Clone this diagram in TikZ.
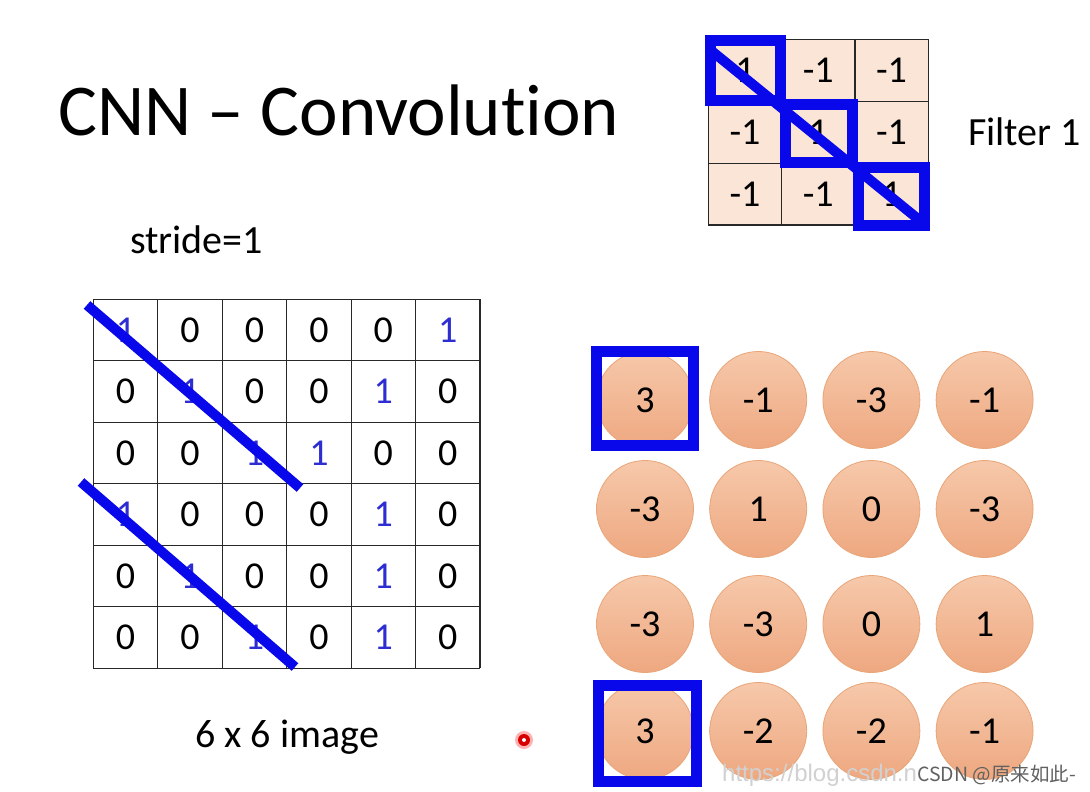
\documentclass[tikz,border=0pt]{standalone}
\usepackage{fontspec}
\setmainfont{Carlito}[Ligatures={NoCommon}]
\newfontfamily\cjk{Noto Sans CJK SC}
\newfontfamily\urlfont{Liberation Sans}
\definecolor{mblue}{RGB}{8,8,235}
\definecolor{numblue}{RGB}{45,45,210}
\definecolor{peach}{RGB}{251,229,214}
\definecolor{ctop}{RGB}{246,200,170}
\definecolor{cbot}{RGB}{238,168,128}
\definecolor{cedge}{RGB}{232,165,120}
\definecolor{gridgray}{RGB}{40,40,40}
\begin{document}
\begin{tikzpicture}[x=1pt,y=-1pt,
  bigtext/.style={font=\fontsize{40}{44}\selectfont, inner sep=0, anchor=base west},
  num/.style={font=\fontsize{38}{40}\selectfont, inner sep=0},
  zero/.style={num, text=black},
  one/.style={num, text=numblue},
  fnum/.style={num, text=black},
  gline/.style={draw=gridgray, line width=1.2},
  fcell/.style={fill=peach, draw=gridgray, line width=1.2},
  bluebar/.style={draw=mblue, line width=10, line cap=butt},
  bluebox/.style={draw=mblue, line width=11},
  outc/.style={circle, minimum size=97, inner sep=0, draw=cedge, line width=0.8,
    top color=ctop, bottom color=cbot, font=\fontsize{38}{40}\selectfont}]
\useasboundingbox (0,0) rectangle (1090,792);
\fill[white] (0,0) rectangle (1090,792);

% title
\node[font=\fontsize{73}{80}\selectfont, inner sep=0, anchor=base west] (title) at (58,135) {CNN -- Convolut\kern0pt ion};
\node[bigtext] (stride) at (130,253) {stride=1};
\node[bigtext] (imglabel) at (195,747) {6 x 6 image};
\node[bigtext] (flabel) at (968,145) {Filter 1};

% 6x6 image grid
\foreach \i in {0,...,6} {
  \draw[gline] (93.3+64.45*\i,299.3) -- (93.3+64.45*\i,668.3);
  \draw[gline] (93.3,299.3+61.5*\i) -- (480,299.3+61.5*\i);
}
\foreach \row/\vals in {1/{1,0,0,0,0,1},2/{0,1,0,0,1,0},3/{0,0,1,1,0,0},4/{1,0,0,0,1,0},5/{0,1,0,0,1,0},6/{0,0,1,0,1,0}} {
  \foreach \v [count=\c] in \vals {
    \ifnum\v=1
      \node[one] (g-\row-\c) at (93.3+64.45*\c-32.2, 299.3+61.5*\row-30.75) {1};
    \else
      \node[zero] (g-\row-\c) at (93.3+64.45*\c-32.2, 299.3+61.5*\row-30.75) {0};
    \fi
  }
}
\coordinate (d1a) at (87,305);
\coordinate (d1b) at (300,488);
\coordinate (d2a) at (81,482);
\coordinate (d2b) at (295,667);
\draw[bluebar] (d1a) -- (d1b);
\draw[bluebar] (d2a) -- (d2b);

% filter
\foreach \r in {1,2,3} {
  \foreach \c in {1,2,3} {
    \draw[fcell] (708.3+73.3*\c-73.3,39.3+61.9*\r-61.9) rectangle (708.3+73.3*\c,39.3+61.9*\r);
    \ifnum\r=\c
      \node[fnum] (f-\r-\c) at (708.3+73.3*\c-36.65,39.3+61.9*\r-30.95) {1};
    \else
      \node[fnum] (f-\r-\c) at (708.3+73.3*\c-36.65,39.3+61.9*\r-30.95) {-1};
    \fi
  }
}
\draw[bluebox] (710,41) rectangle (780,100);
\draw[bluebox] (785,104) rectangle (852,162);
\draw[bluebox] (858,167) rectangle (924,225);
\coordinate (fa) at (708,48);
\coordinate (fb) at (923,223);
\draw[bluebar] (fa) -- (fb);

% output feature map
\foreach \r/\y/\vals in {1/400/{3,-1,-3,-1},2/509/{-3,1,0,-3},3/624/{-3,-3,0,1},4/731/{3,-2,-2,-1}} {
  \foreach \v [count=\c] in \vals {
    \node[outc] (o-\r-\c) at (645+113.2*\c-113.2,\y) {\v};
  }
}
\draw[bluebox] (596,351.5) rectangle (693,445.5);
\draw[bluebox] (598,685.5) rectangle (696,781);

% red pointer dot
\fill[red!30!white] (524,740) circle (9);
\fill[red!85!black] (524,740) circle (6);
\node[circle, fill=white, inner sep=0, minimum size=4] (dot) at (524,740) {};

% watermark
\node[font=\urlfont\fontsize{24}{26}\selectfont, text=black!18, inner sep=0, anchor=base west] (url) at (722,781) {https://blog.csdn.n};
\node[font=\cjk\fontsize{19.5}{22}\selectfont, text=black!62, inner sep=0, anchor=base west] (csdn) at (917,781) {CSDN @原来如此-};
\end{tikzpicture}
\end{document}
